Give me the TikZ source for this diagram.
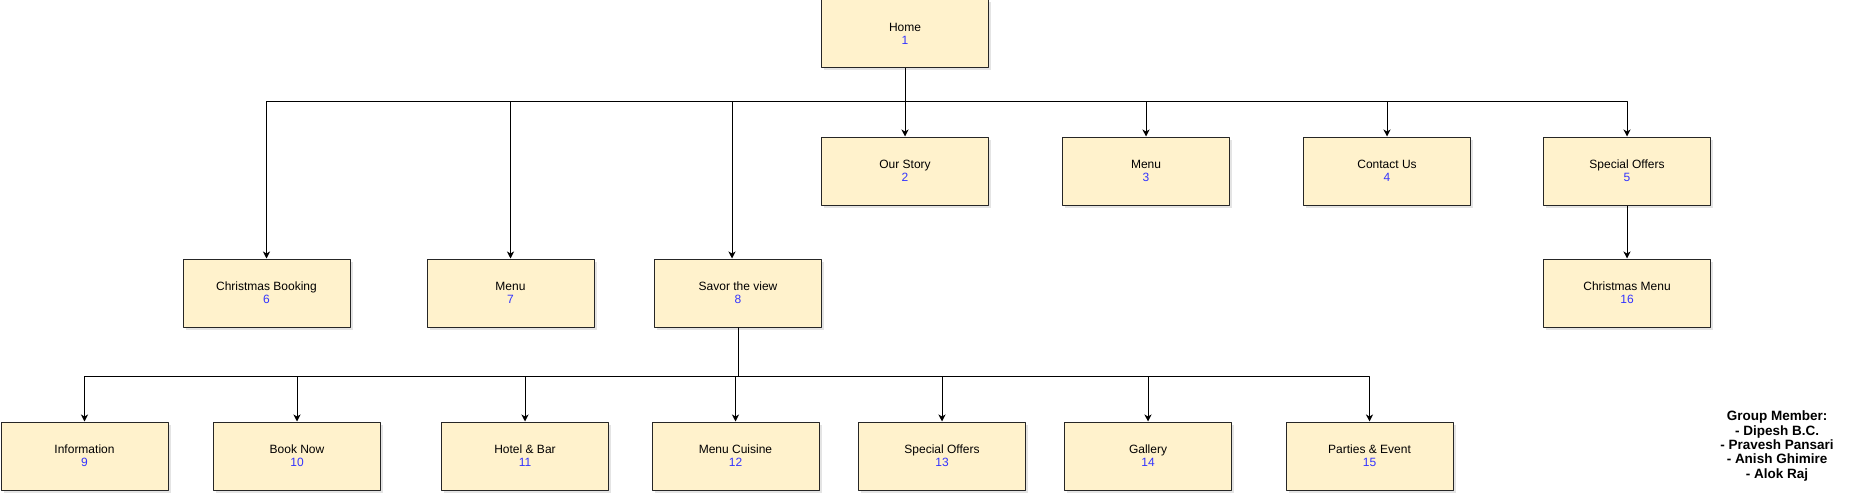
\documentclass[tikz,border=0pt]{standalone}
\usepackage{fontspec}
\setmainfont{Liberation Sans}
\usepackage{xcolor}
\usetikzlibrary{arrows.meta,shadows}
\definecolor{boxfill}{HTML}{FFF2CC}
\definecolor{numblue}{HTML}{3333FF}
\tikzset{
  every picture/.style={line join=round, >=Stealth},
  page/.style={draw=black!85, fill=boxfill, line width=1pt, minimum width=167pt, minimum height=68pt,
    inner sep=0pt, align=center, font=\fontsize{12pt}{14pt}\selectfont,
    drop shadow={shadow xshift=2.5pt, shadow yshift=-2.5pt, opacity=0.3, fill=gray!70}},
  link/.style={->, line width=1pt, >={Stealth[length=7pt,width=7pt,inset=2pt]}},
}
\newcommand{\pg}[2]{#1\\[-1pt]{\color{numblue}#2}}

\begin{document}
\begin{tikzpicture}[x=1pt,y=-1pt]
\useasboundingbox (0,0) rectangle (1852,503);
% level 0 and 1
\node[page](home) at (905,34) {\pg{Home}{1}};
\node[page](story) at (905,171) {\pg{Our Story}{2}};
\node[page](menu) at (1146,171) {\pg{Menu}{3}};
\node[page](contact) at (1387,171) {\pg{Contact Us}{4}};
\node[page](offers) at (1627,171) {\pg{Special Offers}{5}};
\node[page](booking) at (266.5,293) {\pg{Christmas Booking}{6}};
\node[page](menuB) at (510.5,293) {\pg{Menu}{7}};
\node[page](savor) at (738,293) {\pg{Savor the view}{8}};
\node[page](xmenu) at (1627,293) {\pg{Christmas Menu}{16}};
% level 2
\node[page](info) at (84.5,456) {\pg{Information}{9}};
\node[page](booknow) at (297,456) {\pg{Book Now}{10}};
\node[page](hotel) at (525,456) {\pg{Hotel \& Bar}{11}};
\node[page](cuisine) at (735.5,456) {\pg{Menu Cuisine}{12}};
\node[page](offersB) at (942,456) {\pg{Special Offers}{13}};
\node[page](gallery) at (1148,456) {\pg{Gallery}{14}};
\node[page](parties) at (1369.5,456) {\pg{Parties \& Event}{15}};
% links
\coordinate(bus1) at (905,101);
\coordinate(bus2) at (738,376);
\coordinate(savorin) at ([xshift=-6pt]savor.north);
\foreach \c in {booking.north,menuB.north,savorin,story.north,menu.north,contact.north,offers.north}
  \draw[link](home.south)--(bus1)-|(\c);
\foreach \c in {info,booknow,hotel,cuisine,offersB,gallery,parties}
  \draw[link](savor.south)--(bus2)-|(\c.north);
\draw[link](offers)--(xmenu);
\node[align=center, font=\bfseries\fontsize{13.5pt}{14.3pt}\selectfont](team) at (1777,446)
  {Group Member:\\- Dipesh B.C.\\- Pravesh Pansari\\- Anish Ghimire\\- Alok Raj};
\end{tikzpicture}
\end{document}
